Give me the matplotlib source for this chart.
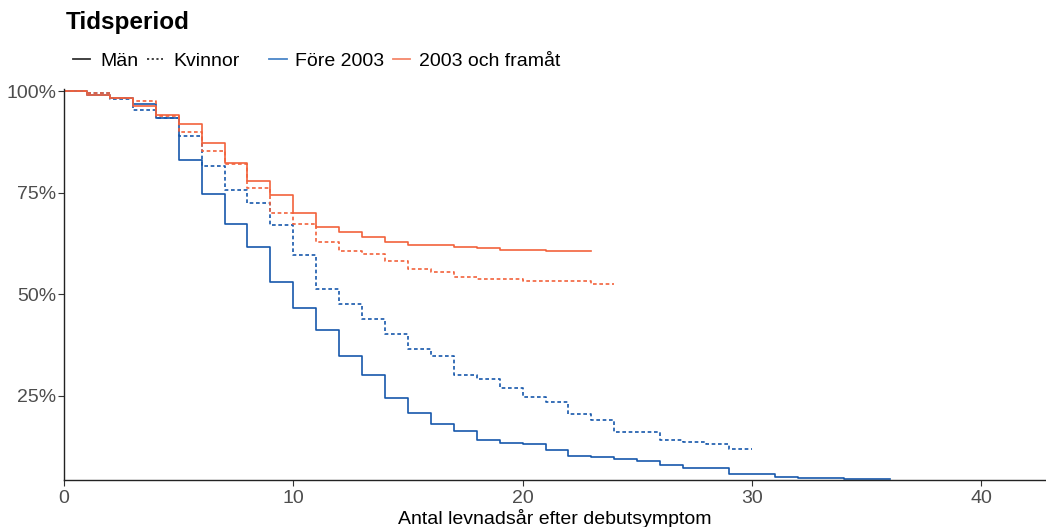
import numpy as np
import matplotlib.pyplot as plt
from matplotlib.lines import Line2D

plt.rcParams['font.family'] = ['Liberation Sans', 'DejaVu Sans']

# Kaplan-Meier style survival curves (% alive), step starts + end time
man_fore_t = [0, 1, 2, 3, 4, 5, 6, 7, 8, 9, 10, 11, 12, 13, 14, 15, 16, 17, 18, 19,
              20, 21, 22, 23, 24, 25, 26, 27, 29, 31, 32, 34, 36]
man_fore_s = [100, 99.1, 98.2, 96.7, 93.3, 83.0, 74.7, 67.2, 61.6, 53.1, 46.7, 41.3,
              34.8, 30.2, 24.5, 20.7, 18.0, 16.4, 14.2, 13.3, 13.1, 11.6, 10.2, 9.9,
              9.5, 9.0, 7.9, 7.2, 5.8, 5.1, 4.8, 4.5]

kv_fore_t = [0, 1, 2, 3, 4, 5, 6, 7, 8, 9, 10, 11, 12, 13, 14, 15, 16, 17, 18, 19,
             20, 21, 22, 23, 24, 26, 27, 28, 29, 30]
kv_fore_s = [100, 99.4, 98.0, 95.4, 93.4, 89.0, 81.5, 75.7, 72.5, 67.1, 59.6, 51.2,
             47.5, 44.0, 40.2, 36.5, 34.7, 30.1, 29.1, 27.0, 24.6, 23.6, 20.6, 19.1,
             16.1, 14.2, 13.7, 13.2, 12.0]

man_efter_t = [0, 1, 2, 3, 4, 5, 6, 7, 8, 9, 10, 11, 12, 13, 14, 15, 17, 18, 19, 21, 23]
man_efter_s = [100, 99.1, 98.4, 96.3, 94.2, 91.8, 87.1, 82.2, 77.9, 74.3, 69.9, 66.6,
               65.2, 64.2, 62.8, 62.0, 61.7, 61.3, 61.0, 60.6]

kv_efter_t = [0, 1, 2, 3, 4, 5, 6, 7, 8, 9, 10, 11, 12, 13, 14, 15, 16, 17, 18, 20, 23, 24]
kv_efter_s = [100, 99.4, 98.4, 97.6, 93.9, 89.8, 85.2, 82.0, 76.2, 70.1, 67.4, 62.8,
              60.6, 59.9, 58.3, 56.1, 55.5, 54.3, 53.8, 53.3, 52.5]

x_ticks = [0, 10, 20, 30, 40]
y_ticks = [25, 50, 75, 100]

blue = "#1658ab"
orange = "#f2623c"
dotted = (0, (2.2, 1.6))

W, H = 1046, 527
fig = plt.figure(figsize=(W / 100, H / 100), dpi=100)
ax = fig.add_axes([64 / W, 1 - 480 / H, (1045 - 64) / W, (480 - 89) / H])


def km(t, s, color, ls):
    y = list(s) + [s[-1]]
    ax.step(t, y, where="post", color=color, lw=1.2, ls=ls)


km(man_fore_t, man_fore_s, blue, "-")
km(kv_fore_t, kv_fore_s, blue, dotted)
km(man_efter_t, man_efter_s, orange, "-")
km(kv_efter_t, kv_efter_s, orange, dotted)

ax.set_xlim(0, 42.78)
ax.set_ylim(4.3, 100.5)
ax.set_xticks(x_ticks)
ax.set_yticks(y_ticks)
ax.set_yticklabels([f"{v}%" for v in y_ticks])
for s in ["top", "right"]:
    ax.spines[s].set_visible(False)
for s in ["left", "bottom"]:
    ax.spines[s].set_color("#222222")
    ax.spines[s].set_linewidth(1.0)
ax.tick_params(length=4, width=0.8, color="#333333", labelcolor="#4d4d4d",
               labelsize=14)
ax.tick_params(axis="x", pad=3)
ax.tick_params(axis="y", pad=1.5)
ax.set_xlabel("Antal levnadsår efter debutsymptom", fontsize=14, color="black",
              labelpad=2)

# legend (manual, ggplot style on top)
fig.text(66 / W, 1 - 29 / H, "Tidsperiod", fontsize=17.5, fontweight="bold",
         va="baseline", ha="left")
legend_items = [
    (73, 90, "#333333", "-", 100, "Män"),
    (147, 163, "#333333", (0, (1.2, 1.4)), 173, "Kvinnor"),
    (269, 287, "#4a86c8", "-", 295, "Före 2003"),
    (393, 410, "#f4876a", "-", 419, "2003 och framåt"),
]
for x0, x1, c, ls, tx, lab in legend_items:
    fig.add_artist(Line2D([x0 / W, x1 / W], [1 - 59 / H, 1 - 59 / H],
                          color=c, lw=1.3, ls=ls, transform=fig.transFigure))
    fig.text(tx / W, 1 - 66 / H, lab, fontsize=14, va="baseline", ha="left")

fig.savefig("out.png", dpi=100)
